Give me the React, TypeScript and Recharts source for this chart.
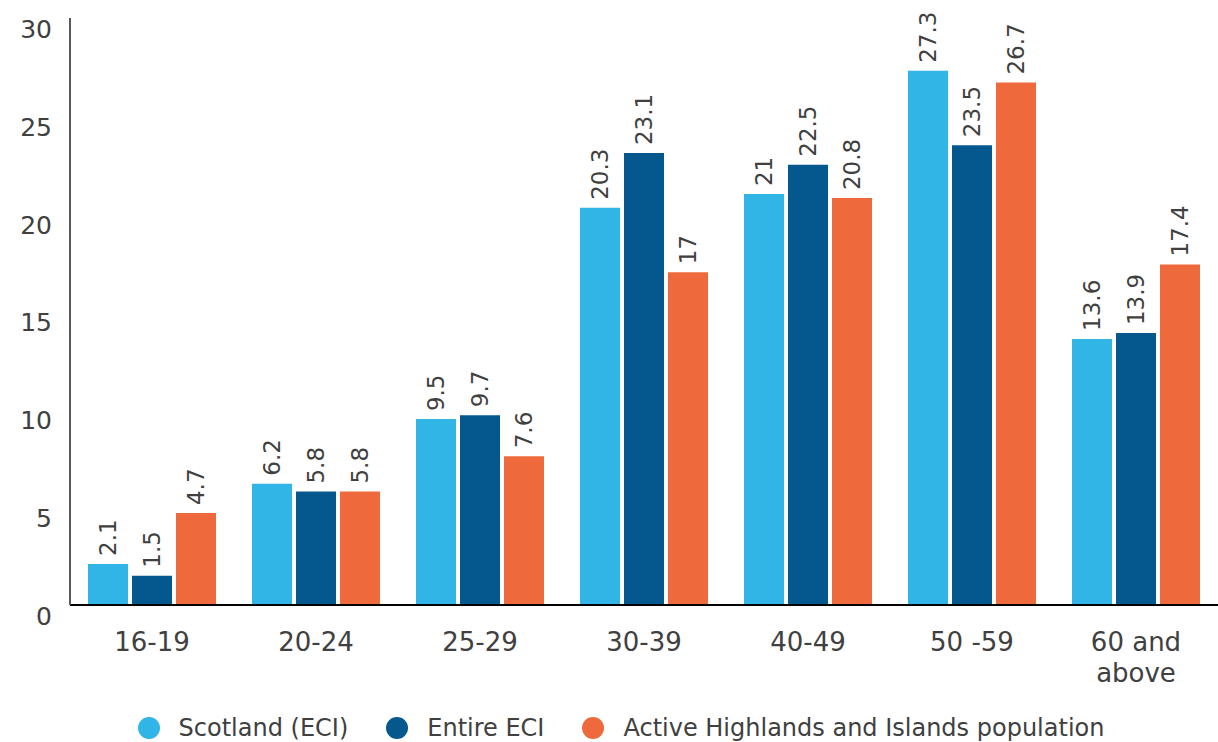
import { BarChart, Bar, XAxis, YAxis, Legend, LabelList } from "recharts";

const categories = ["16-19", "20-24", "25-29", "30-39", "40-49", "50 -59", "60 and above"];
const scotlandEci = [2.1, 6.2, 9.5, 20.3, 21, 27.3, 13.6];
const entireEci = [1.5, 5.8, 9.7, 23.1, 22.5, 23.5, 13.9];
const activeHighlands = [4.7, 5.8, 7.6, 17, 20.8, 26.7, 17.4];
const yTicks = [0, 5, 10, 15, 20, 25, 30];

const FONT = "'DejaVu Sans', Verdana, sans-serif";
const TEXT = "#404040";

const series = [
  { key: "scotland", name: "Scotland (ECI)", color: "#31b5e7" },
  { key: "entire", name: "Entire ECI", color: "#05588d" },
  { key: "active", name: "Active Highlands and Islands population", color: "#ee6a3c" },
];

const data = categories.map((label, i) => ({
  label,
  scotland: scotlandEci[i],
  entire: entireEci[i],
  active: activeHighlands[i],
}));

function YTick({ x, y, payload }: any) {
  return (
    <text x={x} y={y + 11} dy="0.355em" textAnchor="end" fontSize={25} fill={TEXT} fontFamily={FONT}>
      {payload.value}
    </text>
  );
}

function XTick({ x, y, payload }: any) {
  const lines = payload.value === "60 and above" ? ["60 and", "above"] : [payload.value];
  return (
    <text x={x} y={y + 44} textAnchor="middle" fontSize={26} fill={TEXT} fontFamily={FONT}>
      {lines.map((line, i) => (
        <tspan key={line} x={x} dy={i === 0 ? 0 : 31}>
          {line}
        </tspan>
      ))}
    </text>
  );
}

function BarLabel({ x, y, width, value }: any) {
  const cx = Number(x) + Number(width) / 2;
  const ty = Number(y) - 8;
  return (
    <text
      x={cx}
      y={ty}
      transform={`rotate(-90 ${cx} ${ty})`}
      textAnchor="start"
      dominantBaseline="central"
      fontSize={23}
      fill={TEXT}
      fontFamily={FONT}
    >
      {value}
    </text>
  );
}

function LegendContent() {
  return (
    <div
      style={{
        display: "flex",
        justifyContent: "center",
        alignItems: "center",
        gap: 38,
        paddingTop: 19,
        paddingLeft: 24,
        fontFamily: FONT,
        fontSize: 24,
        color: TEXT,
      }}
    >
      {series.map((s) => (
        <span key={s.key} style={{ display: "flex", alignItems: "center", gap: 19 }}>
          <span style={{ width: 22, height: 22, borderRadius: "50%", background: s.color }} />
          {s.name}
        </span>
      ))}
    </div>
  );
}

export default function App() {
  return (
    <div style={{ position: "absolute", left: 0, top: 0, background: "#fff" }}>
      <BarChart
        width={1218}
        height={742}
        data={data}
        margin={{ top: 18, right: 0, left: 0, bottom: 0 }}
        barCategoryGap={18}
        barGap={4}
      >
        <XAxis
          dataKey="label"
          interval={0}
          height={90}
          tickLine={false}
          tickSize={0}
          axisLine={{ stroke: "#000", strokeWidth: 2 }}
          tick={<XTick />}
        />
        <YAxis
          domain={[0, 30]}
          ticks={yTicks}
          width={70}
          tickLine={false}
          tickSize={0}
          tickMargin={18}
          axisLine={{ stroke: "#595959", strokeWidth: 2 }}
          tick={<YTick />}
        />
        <Legend verticalAlign="bottom" height={47} content={<LegendContent />} />
        {series.map((s) => (
          <Bar key={s.key} dataKey={s.key} name={s.name} fill={s.color} isAnimationActive={false}>
            <LabelList dataKey={s.key} content={<BarLabel />} />
          </Bar>
        ))}
      </BarChart>
    </div>
  );
}
